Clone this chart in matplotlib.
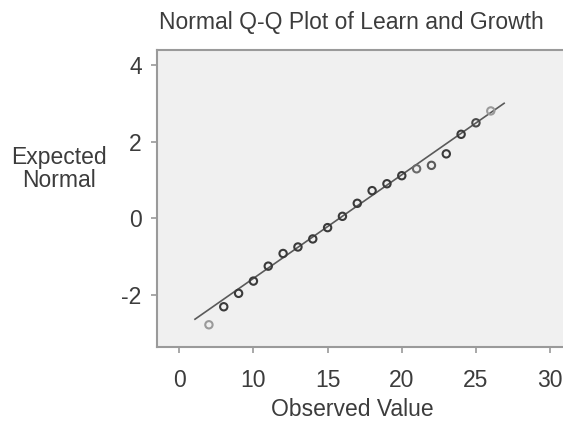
import matplotlib
matplotlib.use("Agg")
import matplotlib.pyplot as plt

plt.rcParams["font.family"] = ["Liberation Sans", "DejaVu Sans"]
plt.rcParams["axes.unicode_minus"] = False

# observed values and their expected normal quantiles
observed = [7, 8, 9, 10, 11, 12, 13, 14, 15, 16, 17, 18, 19, 20, 21, 22, 23, 24, 25, 26]
expected = [-2.78, -2.31, -1.96, -1.64, -1.25, -0.92, -0.75, -0.54, -0.245, 0.05,
            0.39, 0.72, 0.90, 1.11, 1.29, 1.38, 1.68, 2.19, 2.49, 2.80]
point_shade = ["#9a9a9a"] + ["#3a3a3a"] * 13 + ["#6a6a6a", "#5a5a5a", "#3a3a3a",
               "#3a3a3a", "#4a4a4a", "#9a9a9a"]

# reference line endpoints (observed, expected)
line_x = [6.06, 26.9]
line_y = [-2.635, 3.0]

x_ticks = [5, 10, 15, 20, 25, 30]
x_tick_labels = ["0", "10", "15", "20", "25", "30"]
y_ticks = [-2, 0, 2, 4]

text_color = "#3c3c3c"
frame_color = "#9a9a9a"
fs = 16.5

fig = plt.figure(figsize=(5.63, 4.34), dpi=100)
ax = fig.add_axes([157 / 563, 87 / 434, 409 / 563, 297 / 434])
ax.set_facecolor("#f0f0f0")

ax.plot(line_x, line_y, color="#5a5a5a", lw=1.2, zorder=2)
ax.scatter(observed, expected, s=28, facecolors="none", edgecolors=point_shade,
           linewidths=1.5, zorder=3)

ax.set_xlim(3.5, 31.07)
ax.set_ylim(-3.36, 4.39)
ax.set_xticks(x_ticks)
ax.set_xticklabels(x_tick_labels)
ax.set_yticks(y_ticks)
ax.tick_params(colors=frame_color, labelcolor=text_color, labelsize=fs,
               length=4, width=1.2)
ax.tick_params(axis="x", pad=12)
ax.tick_params(axis="y", pad=7)
for side in ("left", "bottom", "top"):
    ax.spines[side].set_color(frame_color)
    ax.spines[side].set_linewidth(1.5)
ax.spines["right"].set_visible(False)

fig.text(351 / 563, 1 - 22 / 434, "Normal Q-Q Plot of Learn and Growth",
         ha="center", va="center", fontsize=fs, color=text_color)
fig.text(59 / 563, 1 - 169 / 434, "Expected\nNormal", ha="center", va="center",
         fontsize=fs, color=text_color, linespacing=1.0)
fig.text(352 / 563, 1 - 410 / 434, "Observed Value", ha="center", va="center",
         fontsize=fs, color=text_color)

fig.savefig("out.png", dpi=100)
